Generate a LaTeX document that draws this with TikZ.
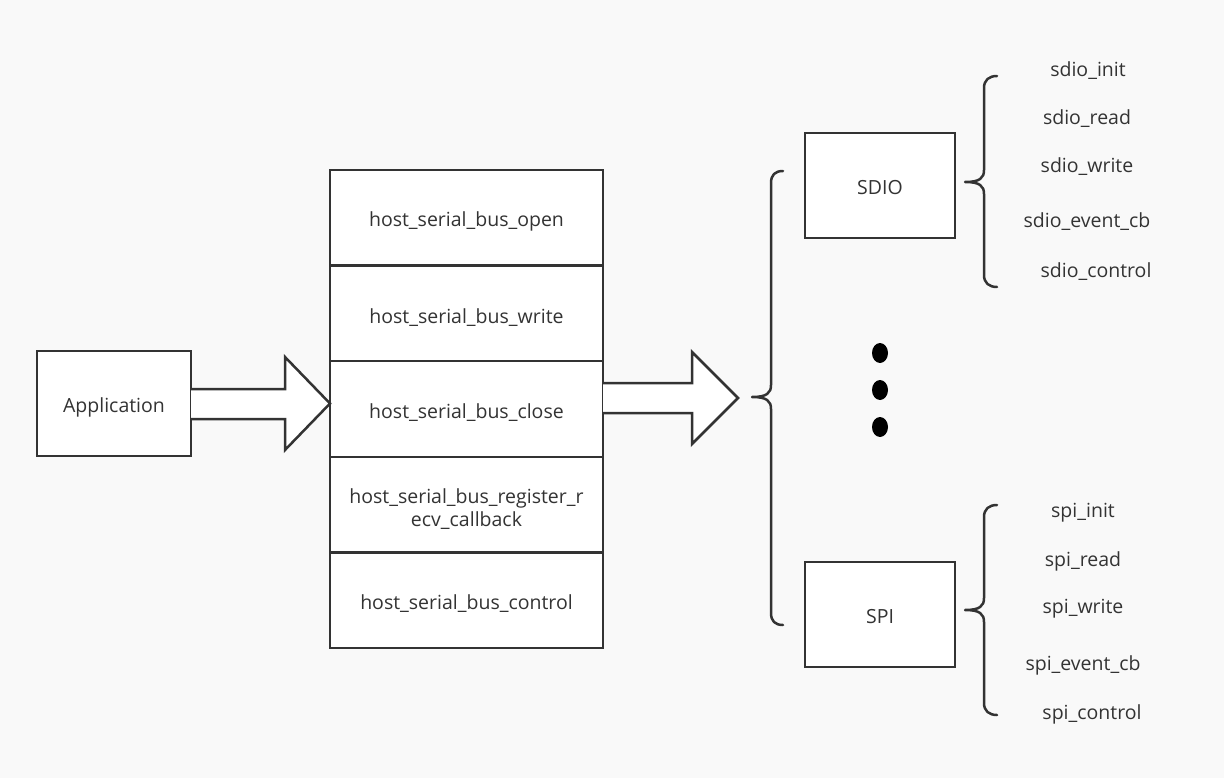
\documentclass[tikz,border=0pt]{standalone}
\usepackage{fontspec}
\setmainfont{Open Sans}
\usetikzlibrary{calc}
\definecolor{ink}{RGB}{51,51,51}
\definecolor{paper}{RGB}{249,249,249}

\tikzset{
  box/.style={draw=ink,line width=2.5pt,fill=white,outer sep=0pt,inner sep=2pt,text=ink,text height=22.5pt,font=\fontsize{19.5}{23}\selectfont},
  fun/.style={text=ink,font=\fontsize{19.5}{22}\selectfont,inner sep=1pt},
  fatarrow/.style={draw=ink,line width=2.5pt,fill=white,line join=miter},
  curly/.style={draw=ink,line width=2.5pt,line cap=round,line join=round}
}

\begin{document}
\begin{tikzpicture}[x=1pt,y=-1pt]
	\fill[paper] (0,0) rectangle (1224,778);
	\useasboundingbox (0,0) rectangle (1224,778);
	% left box
	\node[box,minimum width=154,minimum height=105] (app) at (114,403.5) {Application};
	% stack of calls
	\node[box,minimum width=273,minimum height=95.6] (open) at (466.5,217.8) {host\_serial\_bus\_open};
	\node[box,minimum width=273,minimum height=95.6] (write) at (466.5,313.4) {host\_serial\_bus\_write};
	\node[box,minimum width=273,minimum height=95.6] (close) at (466.5,409) {host\_serial\_bus\_close};
	\node[box,minimum width=273,minimum height=95.6,align=center,text height=46.5pt] (register) at (466.5,504.6) {host\_serial\_bus\_register\_r\\ecv\_callback};
	\node[box,minimum width=273,minimum height=95.6] (control) at (466.5,600.2) {host\_serial\_bus\_control};
	% bus boxes
	\node[box,minimum width=150,minimum height=105,text height=18pt] (sdio) at (880,185.5) {SDIO};
	\node[box,minimum width=150,minimum height=105,text height=18pt] (spi) at (880,614.5) {SPI};

	% fat arrow app -> stack
	\draw[fatarrow] (app.east |- 0,389) -- (285,389) -- (285,357) -- (open.west |- 0,403.5)
		-- (285,450) -- (285,419) -- (app.east |- 0,419);
	% fat arrow stack -> buses
	\coordinate (tip) at (738,398);
	\draw[fatarrow] (close.east |- 0,383) -- (692,383) -- (692,352) -- (tip)
		-- (692,444) -- (692,413) -- (close.east |- 0,413);

	% big brace
	\draw[curly] (783,171) .. controls (775,171) and (771,175) .. (771,183) -- (771,385)
		.. controls (771,393) and (767,397) .. (752,397)
		.. controls (767,397) and (771,401) .. (771,409) -- (771,613)
		.. controls (771,621) and (775,625) .. (783,625);
	% sdio brace
	\draw[curly] (997,76) .. controls (989,76) and (984,80) .. (984,88) -- (984,170)
		.. controls (984,178) and (980,182) .. (965,182)
		.. controls (980,182) and (984,186) .. (984,194) -- (984,275)
		.. controls (984,283) and (989,287) .. (997,287);
	% spi brace
	\draw[curly] (997,505) .. controls (989,505) and (984,509) .. (984,517) -- (984,598)
		.. controls (984,606) and (980,610) .. (965,610)
		.. controls (980,610) and (984,614) .. (984,622) -- (984,703)
		.. controls (984,711) and (989,715) .. (997,715);

	% dots
	\fill (880,353) ellipse (8 and 10);
	\fill (880,390) ellipse (8 and 10);
	\fill (880,427) ellipse (8 and 10);

	% sdio calls
	\node[fun] (sdioinit) at (1088,71) {sdio\_init};
	\node[fun] (sdioread) at (1087,119) {sdio\_read};
	\node[fun] (sdiowrite) at (1087,167) {sdio\_write};
	\node[fun] (sdioevent) at (1087,222) {sdio\_event\_cb};
	\node[fun] (sdioctrl) at (1096,272) {sdio\_control};
	% spi calls
	\node[fun] (spiinit) at (1083,513) {spi\_init};
	\node[fun] (spiread) at (1083,561) {spi\_read};
	\node[fun] (spiwrite) at (1083,609) {spi\_write};
	\node[fun] (spievent) at (1083,665) {spi\_event\_cb};
	\node[fun] (spictrl) at (1092,714) {spi\_control};
\end{tikzpicture}
\end{document}
